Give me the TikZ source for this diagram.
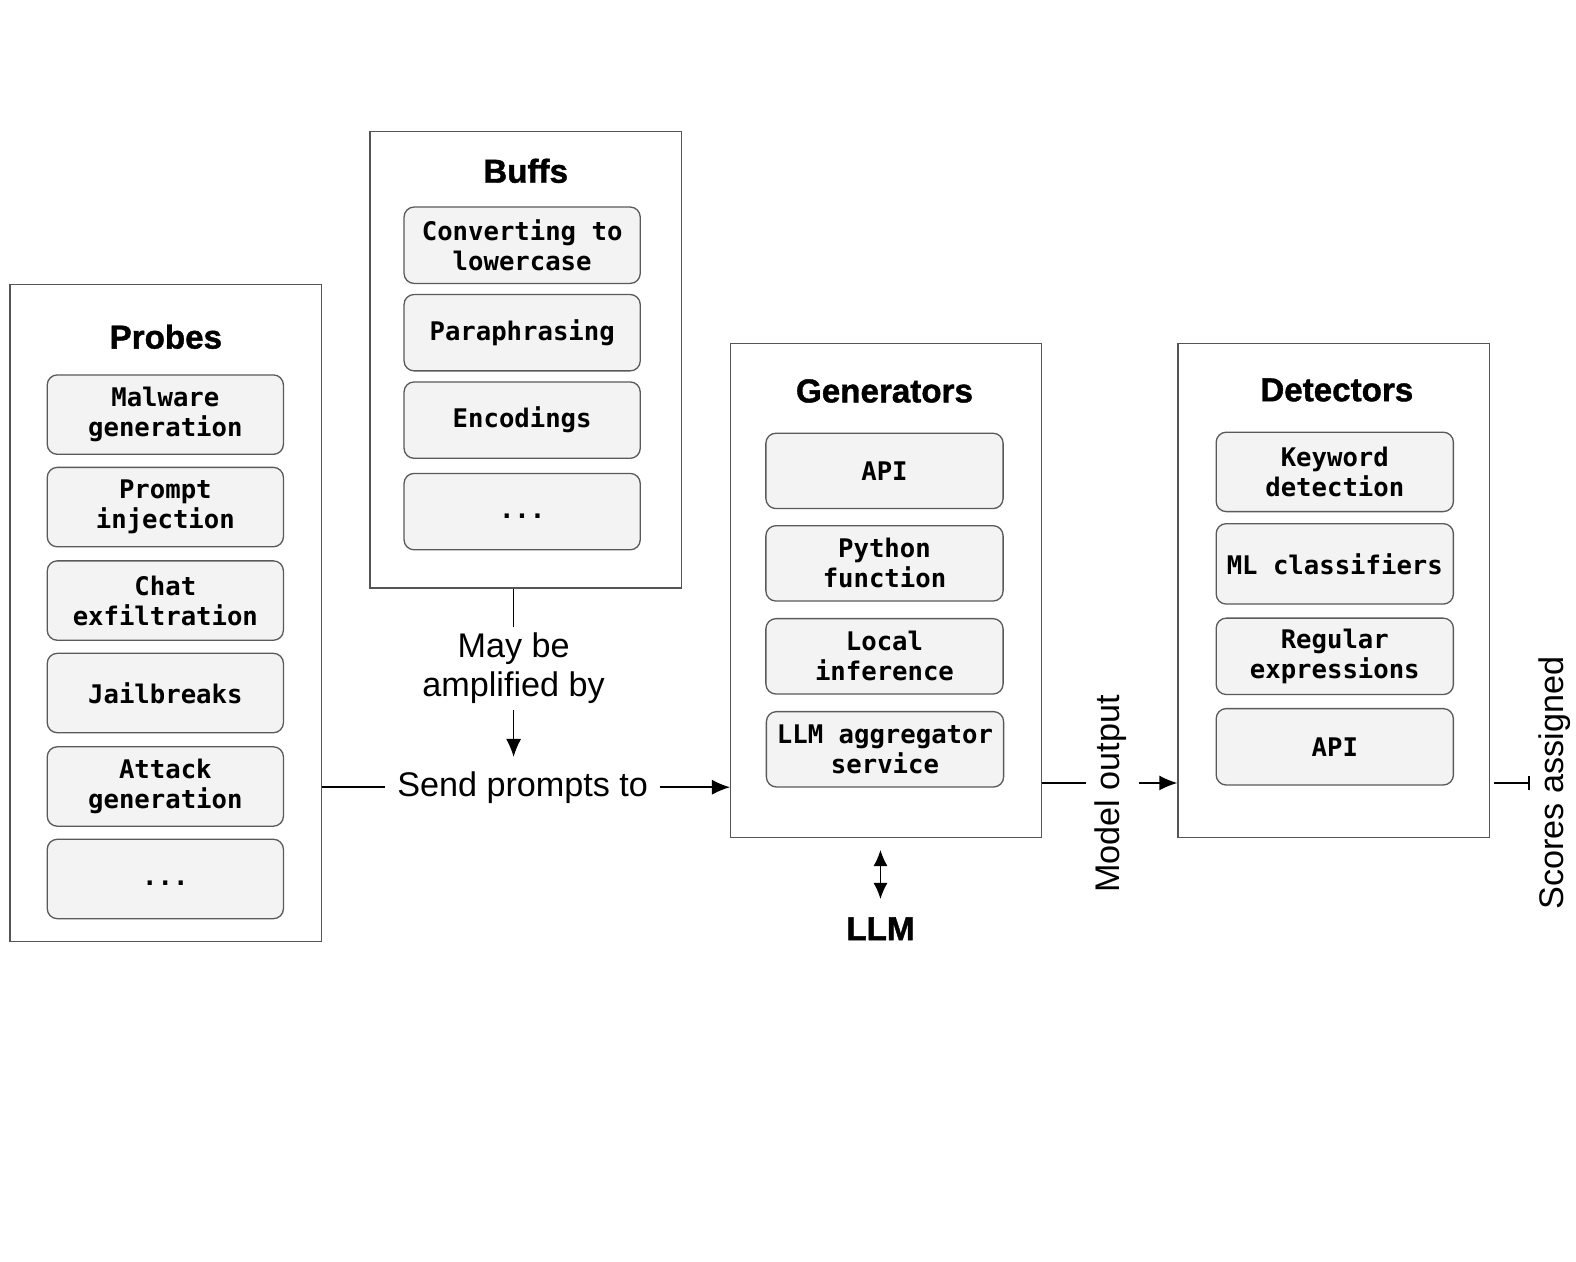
\documentclass[tikz,border=0pt]{standalone}
\usepackage{fontspec}
\setmainfont{Liberation Sans}
\newfontfamily\monofam{DejaVu Sans Mono}
\newfontfamily\heavyfont{Liberation Sans Bold}[FakeBold=1.2]
\usetikzlibrary{arrows.meta}
\definecolor{boxline}{HTML}{555555}
\definecolor{itemline}{HTML}{5A5A5A}
\definecolor{itemfill}{HTML}{F3F3F3}
\tikzset{
  outerbox/.style={draw=boxline, line width=1.3pt, fill=white, inner sep=0pt},
  titletext/.style={font=\heavyfont\fontsize{33}{38}\selectfont, inner sep=0pt},
  itembox/.style={draw=itemline, line width=1.3pt, fill=itemfill, rounded corners=10pt,
    minimum width=235pt, align=center, inner sep=0pt,
    font=\monofam\bfseries\fontsize{25.5}{30}\selectfont},
  lbl/.style={font=\fontsize{34}{39}\selectfont, align=center},
  conn/.style={line width=1.5pt, draw=black},
  arr/.style={conn, -{Latex[length=18pt,width=15pt]}},
  dblarr/.style={conn, {Latex[length=16pt,width=14pt]}-{Latex[length=16pt,width=14pt]}},
}
\newcommand{\dotsitem}{\vphantom{Ag}...}
\begin{document}
\begin{tikzpicture}[x=1pt,y=-1pt]
\useasboundingbox (0,0) rectangle (1568,1255);
\fill[white] (0,0) rectangle (1568,1255);

% Outer boxes
\node[outerbox, minimum width=310pt, minimum height=654pt] (probes) at (165,610) {};
\node[outerbox, minimum width=310pt, minimum height=454pt] (buffs) at (523,358) {};
\node[outerbox, minimum width=309pt, minimum height=491pt] (gen) at (881.5,587.5) {};
\node[outerbox, minimum width=310pt, minimum height=491pt] (det) at (1327,587.5) {};

% Titles
\node[titletext] (tprobes) at (165,335) {Probes};
\node[titletext] (tbuffs) at (523,170) {Buffs};
\node[titletext] (tgen) at (880,389) {Generators};
\node[titletext] (tdet) at (1330,388) {Detectors};

% Probes items
\node[itembox, minimum height=79pt] (p1) at (164.5,412.5) {Malware\\generation};
\node[itembox, minimum height=79pt] (p2) at (164.5,504.5) {Prompt\\injection};
\node[itembox, minimum height=79pt] (p3) at (164.5,597.5) {Chat\\exfiltration};
\node[itembox, minimum height=79pt] (p4) at (164.5,689.5) {Jailbreaks};
\node[itembox, minimum height=79pt] (p5) at (164.5,782.5) {Attack\\generation};
\node[itembox, minimum height=79pt] (p6) at (164.5,874.5) {\dotsitem};

% Buffs items
\node[itembox, minimum height=76pt] (b1) at (519.5,244) {Converting to\\lowercase};
\node[itembox, minimum height=76pt] (b2) at (519.5,331) {Paraphrasing};
\node[itembox, minimum height=76pt] (b3) at (519.5,418) {Encodings};
\node[itembox, minimum height=76pt] (b4) at (519.5,509) {\dotsitem};

% Generators items
\node[itembox, minimum width=236pt, minimum height=75pt] (g1) at (880,468.5) {API};
\node[itembox, minimum width=236pt, minimum height=75pt] (g2) at (880,560.5) {Python\\function};
\node[itembox, minimum width=236pt, minimum height=75pt] (g3) at (880,653) {Local\\inference};
\node[itembox, minimum width=236pt, minimum height=75pt] (g4) at (880.5,745.5) {LLM aggregator\\service};

% Detectors items
\node[itembox, minimum width=236pt, minimum height=79pt] (d1) at (1328,469.5) {Keyword\\detection};
\node[itembox, minimum width=236pt, minimum height=80pt] (d2) at (1328,561) {ML classifiers};
\node[itembox, minimum width=236pt, minimum height=76pt] (d3) at (1328,653) {Regular\\expressions};
\node[itembox, minimum width=236pt, minimum height=76pt] (d4) at (1328,743) {API};

% Labels
\node[lbl, inner sep=6pt] (may) at (511,665) {May be\\amplified by};
\node[lbl, anchor=base, inner xsep=12pt, inner ysep=14pt] (send) at (520,792) {Send prompts to};
\node[titletext] (llm) at (876,924) {LLM};
\node[lbl, rotate=90, inner sep=0pt] (mo) at (1105,790) {Model output};
\node[lbl, rotate=90, inner sep=0pt] (sc) at (1547,779) {Scores assigned};

% Connectors
\draw[conn] (buffs.south -| may) -- (may.north);
\draw[arr] (may.south) -- (send.north -| may);
\draw[conn] (probes.east |- send) -- (send.west);
\draw[arr] (send.east) -- (gen.west |- send);
\draw[dblarr, shorten <=12pt, shorten >=18pt] (gen.south -| llm) -- (llm.north);

\coordinate (mo1) at (1080,779);
\coordinate (mo2) at (1133,779);
\draw[conn] (gen.east |- mo1) -- (mo1);
\draw[arr] (mo2) -- (det.west |- mo2);

\coordinate (sc1) at (1522,779);
\draw[conn, -{Bar[width=14pt]}, shorten <=4pt] (det.east |- sc1) -- (sc1);
\end{tikzpicture}
\end{document}
